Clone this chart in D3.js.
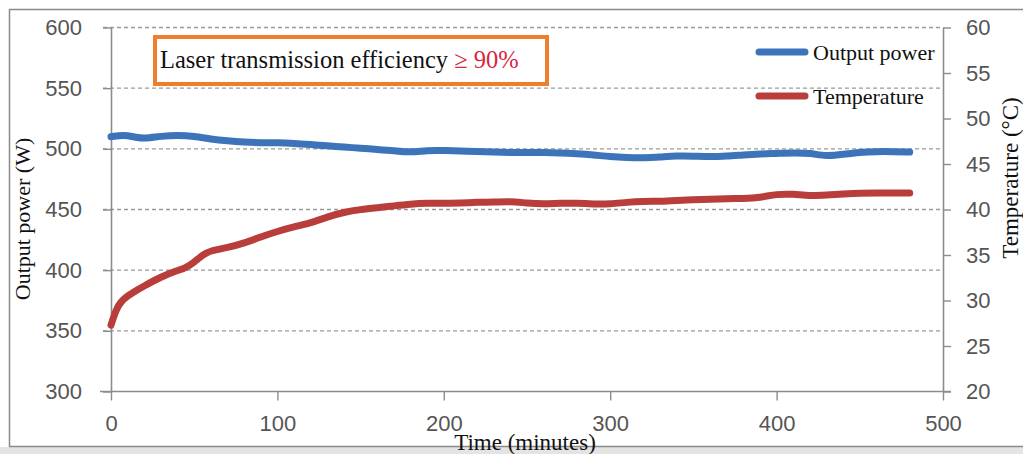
<!DOCTYPE html>
<html>
<head>
<meta charset="utf-8">
<script src="https://cdn.jsdelivr.net/npm/d3@7"></script>
<style>
  body { margin: 0; background: #fff; }
  svg { display: block; }
</style>
</head>
<body>
<div id="chart"></div>
<script>
// time (minutes) for each reading
const times = [0, 5, 10, 15, 20, 30, 40, 50, 60, 70, 80, 90, 100, 110, 120, 130, 140, 150, 160, 170, 180, 190, 200,
  210, 220, 230, 240, 250, 260, 270, 280, 290, 300, 310, 320, 330, 340, 350, 360, 370, 380, 390, 400,
  410, 420, 430, 440, 450, 460, 470, 480];
// output power (W), left axis
const power = [510, 511, 511, 509.5, 508.3, 510.5, 511.3, 510.5, 508, 506.5, 505.5, 505, 505, 504.5, 503.5, 502.5, 501.5, 500.5, 499.5, 498.5, 497, 498.8, 498.6,
  498.2, 497.8, 497.3, 497, 497, 497, 496.7, 496, 495, 493.5, 492.8, 492.5, 493.2, 494.2, 494, 493.5, 494, 495, 495.8, 496.2,
  496.7, 496.5, 493.8, 495.5, 497.2, 497.8, 497.7, 497.3];
// temperature (°C), right axis
const tempTimes = [0, 3, 6, 10, 15, 20, 30, 40, 45, 50, 55, 60, 70, 80, 90, 100, 110, 120, 130, 140, 150, 160, 170, 180, 190, 200,
  210, 220, 230, 240, 250, 260, 270, 280, 290, 300, 310, 320, 330, 340, 350, 360, 370, 380, 390, 400,
  410, 420, 430, 440, 450, 460, 470, 480];
const temperature = [27.3, 29, 29.9, 30.5, 31.1, 31.6, 32.6, 33.3, 33.6, 34.2, 35, 35.5, 35.8, 36.3, 37.0, 37.6, 38.1, 38.5, 39.2, 39.7, 40.0, 40.2, 40.4, 40.6, 40.7, 40.7,
  40.7, 40.8, 40.8, 40.9, 40.7, 40.6, 40.7, 40.7, 40.6, 40.6, 40.8, 40.9, 40.9, 41.0, 41.1, 41.1, 41.2, 41.2, 41.3, 41.7,
  41.7, 41.5, 41.6, 41.7, 41.8, 41.8, 41.8, 41.8];

const xTicks = [0, 100, 200, 300, 400, 500];
const powerTicks = [300, 350, 400, 450, 500, 550, 600];
const tempTicks = [20, 25, 30, 35, 40, 45, 50, 55, 60];

const W = 1023, H = 454;
const svg = d3.select('#chart').append('svg')
    .attr('width', W)
    .attr('height', H);

// outer frame
svg.append('rect')
    .attr('x', 0).attr('y', 447)
    .attr('width', W).attr('height', 7)
    .attr('fill', '#e4e4e4');
svg.append('rect')
    .attr('x', 9.5).attr('y', 9.5)
    .attr('width', W).attr('height', 437)
    .attr('fill', '#fff')
    .attr('stroke', '#8a8a8a')
    .attr('stroke-width', 1.5);

const x = d3.scaleLinear().domain([0, 500]).range([111, 943]);
const yL = d3.scaleLinear().domain([300, 600]).range([391.5, 27.5]);
const yR = d3.scaleLinear().domain([20, 60]).range([391.5, 27.5]);

// dashed gridlines
svg.append('g')
    .selectAll('line')
    .data(powerTicks.filter(d => d > 300))
    .join('line')
    .attr('x1', 103)
    .attr('x2', 943)
    .attr('y1', d => yL(d))
    .attr('y2', d => yL(d))
    .attr('stroke', '#9a9a9a')
    .attr('stroke-width', 1.3)
    .attr('stroke-dasharray', '4,3');

const tickFont = '"Liberation Sans", Arial, sans-serif';

function styleAxis(g) {
    g.select('.domain').attr('stroke', '#8c8c8c').attr('stroke-width', 1.6);
    g.selectAll('.tick line').attr('stroke', '#8c8c8c').attr('stroke-width', 1.4);
    g.selectAll('.tick text')
        .attr('fill', '#555')
        .style('font-family', tickFont)
        .style('font-size', '22px');
}

// left axis
svg.append('g')
    .attr('transform', 'translate(111,0)')
    .call(d3.axisLeft(yL).tickValues(powerTicks).tickSize(8).tickSizeOuter(0).tickPadding(21))
    .call(styleAxis);

// right axis
svg.append('g')
    .attr('transform', 'translate(943,0)')
    .call(d3.axisRight(yR).tickValues(tempTicks).tickSize(8).tickSizeOuter(0).tickPadding(15))
    .call(styleAxis);

// bottom axis
svg.append('g')
    .attr('transform', 'translate(0,391.5)')
    .call(d3.axisBottom(x).tickValues(xTicks).tickSize(9).tickSizeOuter(0).tickPadding(15))
    .call(styleAxis)
    .call(g => g.select('.domain').attr('d', 'M100,0H951'));

// data lines
const powerData = times.map((t, i) => ({ t: t, v: power[i] }));
const tempData = tempTimes.map((t, i) => ({ t: t, v: temperature[i] }));

const powerLine = d3.line()
    .x(d => x(d.t))
    .y(d => yL(d.v))
    .curve(d3.curveBasis);
const tempLine = d3.line()
    .x(d => x(d.t))
    .y(d => yR(d.v))
    .curve(d3.curveBasis);

svg.append('path')
    .datum(tempData)
    .attr('d', tempLine)
    .attr('fill', 'none')
    .attr('stroke', '#b83d3b')
    .attr('stroke-width', 7)
    .attr('stroke-linecap', 'round')
    .attr('stroke-linejoin', 'round');

svg.append('path')
    .datum(powerData)
    .attr('d', powerLine)
    .attr('fill', 'none')
    .attr('stroke', '#3d73b9')
    .attr('stroke-width', 7)
    .attr('stroke-linecap', 'round')
    .attr('stroke-linejoin', 'round');

const serif = '"Liberation Serif", "Times New Roman", serif';

// axis titles
svg.append('text')
    .attr('transform', 'translate(30,219) rotate(-90)')
    .attr('text-anchor', 'middle')
    .attr('fill', '#111')
    .style('font-family', serif)
    .style('font-size', '22px')
    .text('Output power (W)');

svg.append('text')
    .attr('transform', 'translate(1018,178) rotate(-90)')
    .attr('text-anchor', 'middle')
    .attr('fill', '#111')
    .style('font-family', serif)
    .style('font-size', '23px')
    .text('Temperature (°C)');

svg.append('text')
    .attr('x', 525)
    .attr('y', 450)
    .attr('text-anchor', 'middle')
    .attr('fill', '#111')
    .style('font-family', serif)
    .style('font-size', '23px')
    .text('Time (minutes)');

// legend
const legend = [
    { name: 'Output power', color: '#3d73b9', y: 52 },
    { name: 'Temperature', color: '#b83d3b', y: 96 }
];
const lg = svg.append('g');
lg.selectAll('line')
    .data(legend)
    .join('line')
    .attr('x1', 759).attr('x2', 805)
    .attr('y1', d => d.y).attr('y2', d => d.y)
    .attr('stroke', d => d.color)
    .attr('stroke-width', 7)
    .attr('stroke-linecap', 'round');
lg.selectAll('text')
    .data(legend)
    .join('text')
    .attr('x', 813)
    .attr('y', d => d.y)
    .attr('dy', '0.35em')
    .attr('fill', '#111')
    .style('font-family', serif)
    .style('font-size', '22px')
    .text(d => d.name);

// annotation box
svg.append('rect')
    .attr('x', 155)
    .attr('y', 37)
    .attr('width', 392)
    .attr('height', 47)
    .attr('fill', '#fff')
    .attr('stroke', '#ee7d2e')
    .attr('stroke-width', 4);
const note = svg.append('text')
    .attr('x', 160)
    .attr('y', 68)
    .attr('fill', '#111')
    .style('font-family', serif)
    .style('font-size', '24.5px');
note.append('tspan').text('Laser transmission efficiency ');
note.append('tspan').attr('fill', '#d9263d').text('≥ 90%');
</script>
</body>
</html>
